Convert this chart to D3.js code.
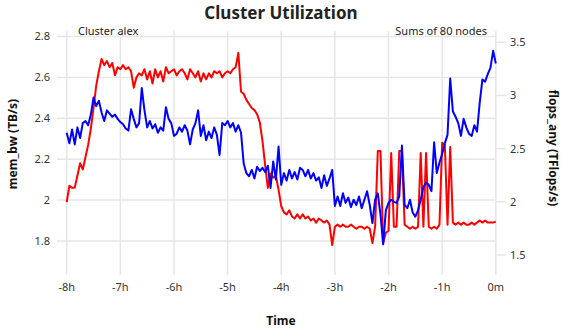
<!DOCTYPE html>
<html><head><meta charset="utf-8">
<script src="https://cdn.jsdelivr.net/npm/d3@7"></script>
<style>body{margin:0;background:#fff}svg{display:block}</style>
</head><body>
<script>
// minutes relative to now, 3-minute steps
const minutes = d3.range(-480, 1, 3);
const xTicks = [-480, -420, -360, -300, -240, -180, -120, -60, 0];
const xTickLabels = ["-8h","-7h","-6h","-5h","-4h","-3h","-2h","-1h","0m"];
const leftTicks = [1.8, 2.0, 2.2, 2.4, 2.6, 2.8];
const leftTickLabels = ["1.8","2","2.2","2.4","2.6","2.8"];
const rightTicks = [1.5, 2, 2.5, 3, 3.5];
const rightTickLabels = ["1.5","2","2.5","3","3.5"];

// mem_bw (TB/s) - red, left axis
const memBw = [
1.99,2.07,2.06,2.06,2.12,2.18,2.15,2.21,2.27,2.35,
2.45,2.56,2.63,2.69,2.66,2.68,2.65,2.67,2.61,2.65,
2.64,2.66,2.64,2.65,2.63,2.55,2.60,2.62,2.61,2.64,
2.59,2.63,2.57,2.64,2.60,2.63,2.58,2.65,2.62,2.63,
2.64,2.61,2.63,2.64,2.62,2.59,2.64,2.62,2.60,2.63,
2.58,2.62,2.59,2.62,2.60,2.63,2.62,2.63,2.60,2.62,
2.63,2.62,2.64,2.65,2.72,2.53,2.52,2.49,2.47,2.45,
2.44,2.42,2.38,2.29,2.17,2.06,2.13,2.11,2.12,2.05,
1.97,1.94,1.93,1.95,1.92,1.91,1.93,1.91,1.93,1.91,
1.92,1.90,1.91,1.89,1.91,1.90,1.89,1.90,1.88,1.78,
1.87,1.88,1.87,1.88,1.87,1.87,1.88,1.87,1.86,1.87,
1.87,1.86,1.87,1.86,1.79,1.87,2.24,2.24,1.79,1.84,
1.85,2.23,1.87,1.87,2.24,2.24,1.88,1.87,1.86,1.87,
1.86,1.87,2.23,1.87,2.23,1.87,1.86,1.87,1.86,1.88,
2.28,2.27,1.88,2.26,1.89,1.88,1.89,1.88,1.89,1.88,
1.88,1.89,1.88,1.89,1.90,1.89,1.90,1.89,1.89,1.89,
1.895];

// flops_any (TFlops/s) - blue, right axis
const flopsAny = [
2.65,2.55,2.68,2.54,2.70,2.60,2.74,2.76,2.72,2.82,
2.98,2.90,2.95,2.84,2.76,2.86,2.83,2.80,2.82,2.78,
2.75,2.73,2.69,2.67,2.87,2.78,2.70,2.74,3.07,2.86,
2.70,2.76,2.69,2.73,2.65,2.70,2.67,2.89,2.78,2.74,
2.62,2.64,2.70,2.66,2.72,2.67,2.54,2.68,2.74,2.86,
2.62,2.72,2.58,2.66,2.60,2.70,2.63,2.44,2.74,2.72,
2.76,2.70,2.74,2.66,2.72,2.65,2.36,2.27,2.24,2.30,
2.22,2.33,2.29,2.32,2.28,2.34,2.13,2.38,2.21,2.52,
2.16,2.27,2.20,2.30,2.22,2.28,2.21,2.32,2.30,2.24,
2.30,2.22,2.27,2.20,2.23,2.13,2.25,2.15,2.22,2.30,
1.96,2.05,1.96,2.08,1.99,2.04,1.95,2.02,1.97,2.05,
1.94,2.02,2.10,1.97,1.80,2.02,2.08,1.88,1.60,1.92,
1.99,2.02,2.00,1.99,2.05,2.53,1.97,1.94,2.02,1.90,
1.86,1.92,2.02,2.14,2.18,2.16,2.10,2.56,2.27,2.37,
2.45,2.55,2.63,3.16,2.85,2.80,2.74,2.62,2.78,2.70,
2.64,2.62,2.72,2.66,2.93,3.15,3.13,3.20,3.26,3.42,
3.30];

const W = 563, H = 331;
const font = "'Noto Sans', 'Open Sans', sans-serif";
const svg = d3.select("body").append("svg").attr("width", W).attr("height", H)
  .style("font-family", font);

const x = d3.scaleLinear().domain([-480, 0]).range([66.7, 495.8]);
const yL = d3.scaleLinear().domain([1.8, 2.8]).range([241, 36.5]);
const yR = d3.scaleLinear().domain([1.5, 3.5]).range([255, 42.3]);
const plotTop = 31, plotBottom = 275;
const grid = "#e6e6e6";

// vertical grid
svg.append("g").selectAll("line").data(xTicks).join("line")
  .attr("x1", d => x(d)).attr("x2", d => x(d))
  .attr("y1", plotTop).attr("y2", plotBottom)
  .attr("stroke", grid).attr("stroke-width", 1.5);
// horizontal grid (left axis)
svg.append("g").selectAll("line").data(leftTicks).join("line")
  .attr("x1", 57).attr("x2", x(0))
  .attr("y1", d => yL(d)).attr("y2", d => yL(d))
  .attr("stroke", grid).attr("stroke-width", 1.5);
// right axis ticks
svg.append("g").selectAll("line").data(rightTicks).join("line")
  .attr("x1", x(0)).attr("x2", 506)
  .attr("y1", d => yR(d)).attr("y2", d => yR(d))
  .attr("stroke", grid).attr("stroke-width", 1.5);

// tick labels
svg.append("g").selectAll("text").data(leftTicks).join("text")
  .attr("x", 50).attr("y", d => yL(d)).attr("dy", "0.35em")
  .attr("text-anchor", "end").attr("font-size", 11).attr("fill", "#333")
  .text((d, i) => leftTickLabels[i]);
svg.append("g").selectAll("text").data(rightTicks).join("text")
  .attr("x", 510).attr("y", d => yR(d)).attr("dy", "0.35em")
  .attr("text-anchor", "start").attr("font-size", 11).attr("fill", "#333")
  .text((d, i) => rightTickLabels[i]);
svg.append("g").selectAll("text").data(xTicks).join("text")
  .attr("x", d => x(d)).attr("y", 291)
  .attr("text-anchor", "middle").attr("font-size", 11).attr("fill", "#333")
  .text((d, i) => xTickLabels[i]);

// lines
const lineL = d3.line().x((d, i) => x(minutes[i])).y(d => yL(d));
const lineR = d3.line().x((d, i) => x(minutes[i])).y(d => yR(d));
svg.append("path").datum(memBw).attr("d", lineL)
  .attr("fill", "none").attr("stroke", "#ff0000").attr("stroke-width", 2).attr("stroke-linejoin", "round");
svg.append("path").datum(flopsAny).attr("d", lineR)
  .attr("fill", "none").attr("stroke", "#0000ff").attr("stroke-width", 2).attr("stroke-linejoin", "round");

// titles
svg.append("text").attr("x", 281).attr("y", 19).attr("text-anchor", "middle")
  .attr("font-size", 17).attr("font-weight", "bold").attr("fill", "#222")
  .text("Cluster Utilization");
svg.append("text").attr("x", 78).attr("y", 35).attr("font-size", 11).attr("fill", "#222")
  .text("Cluster alex");
svg.append("text").attr("x", 487).attr("y", 35).attr("text-anchor", "end")
  .attr("font-size", 11).attr("fill", "#222").text("Sums of 80 nodes");
svg.append("text").attr("transform", "translate(17,144) rotate(-90)")
  .attr("text-anchor", "middle").attr("font-size", 12).attr("font-weight", "bold").attr("fill", "#111")
  .text("mem_bw (TB/s)");
svg.append("text").attr("transform", "translate(549,148) rotate(90)")
  .attr("text-anchor", "middle").attr("font-size", 12).attr("font-weight", "bold").attr("fill", "#111")
  .text("flops_any (TFlops/s)");
svg.append("text").attr("x", 281).attr("y", 325).attr("text-anchor", "middle")
  .attr("font-size", 12).attr("font-weight", "bold").attr("fill", "#111")
  .text("Time");
</script>
</body></html>
